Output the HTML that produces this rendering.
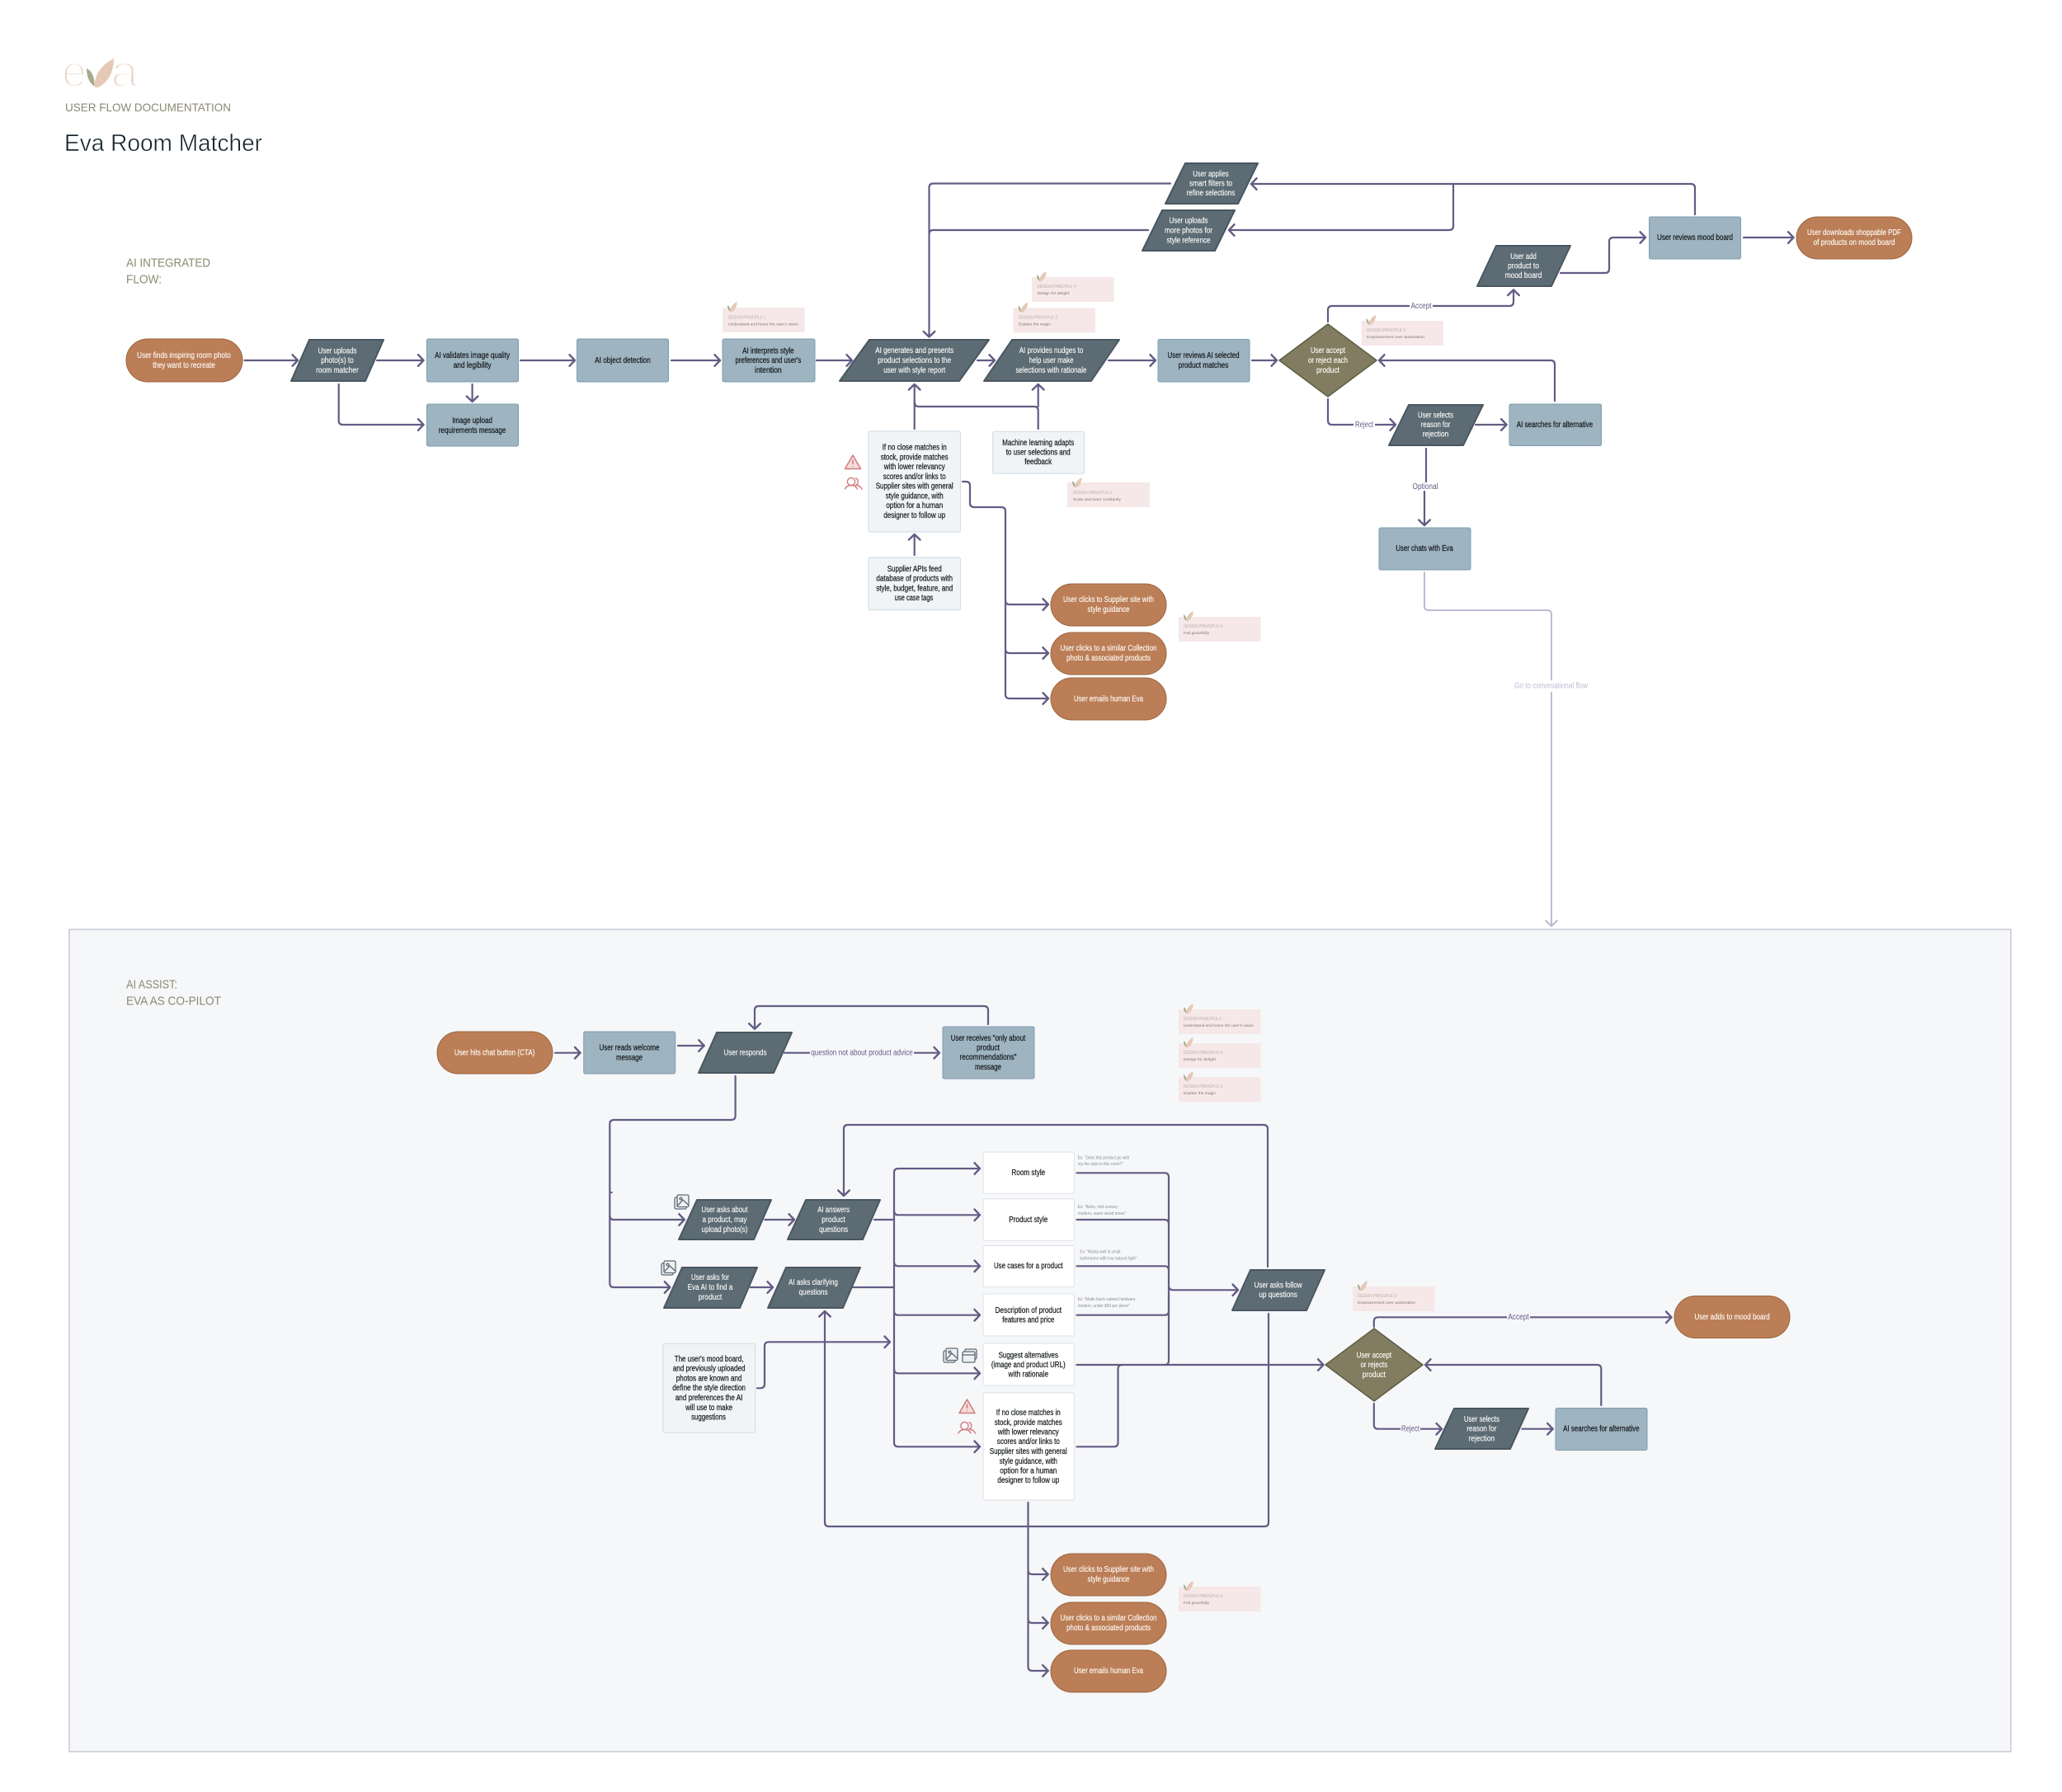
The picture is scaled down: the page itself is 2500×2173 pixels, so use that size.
<!DOCTYPE html>
<html lang="en">
<head>
<meta charset="utf-8">
<title>Eva Room Matcher</title>
<style>
html,body{margin:0;padding:0;background:#fff}
svg{display:block}
text{font-family:"Liberation Sans",sans-serif}
.n text,text.n{font-size:10px;text-anchor:middle;dominant-baseline:central}
.k{fill:#14191c;stroke:#14191c;stroke-width:.22}
.w{fill:#fffdfb;stroke:#fffdfb;stroke-width:.12}
.c{fill:none;stroke:#625c84;stroke-width:2.2;stroke-linecap:round}
.l{fill:none;stroke:#bdbbd4;stroke-width:2;stroke-linecap:round}
.pill{fill:#bb7e56;stroke:#9c6640;stroke-width:1}
.blue{fill:#9eb4c0;stroke:#7d9cad;stroke-width:1}
.para{fill:#5c6b74;stroke:#4a5761;stroke-width:2;stroke-linejoin:round}
.dia{fill:#827d60;stroke:#5f5c46;stroke-width:1.5;stroke-linejoin:round}
.soft{fill:#f0f4f7;stroke:#d5dfe6;stroke-width:1.2}
.card{fill:#fff;stroke:#e3e5ea;stroke-width:1.2}
.dpb{fill:#f6e8e8}
.dh{font-size:5px;fill:#b9aeaa}
.db{font-size:4.8px;fill:#7a7a6c}
.ex{font-size:5px;fill:#8a8c99}
.lab{font-size:10px;fill:#635c85;text-anchor:middle;dominant-baseline:central}
.hd{fill:#8b8a70;font-size:15px}
</style>
</head>
<body>
<svg xmlns="http://www.w3.org/2000/svg" width="2500" height="2173" viewBox="0 0 2500 2173">
<defs>
<marker id="m" markerUnits="userSpaceOnUse" markerWidth="16" markerHeight="20" viewBox="0 0 16 20" refX="11" refY="10" orient="auto" overflow="visible">
<path d="M4.5 3.2L11 10L4.5 16.8" fill="none" stroke="#625c84" stroke-width="2.4" stroke-linecap="round" stroke-linejoin="round"/>
</marker>
<marker id="ml" markerUnits="userSpaceOnUse" markerWidth="16" markerHeight="20" viewBox="0 0 16 20" refX="11" refY="10" orient="auto" overflow="visible">
<path d="M4.5 3.2L11 10L4.5 16.8" fill="none" stroke="#bdbbd4" stroke-width="2.2" stroke-linecap="round" stroke-linejoin="round"/>
</marker>
<g id="leaf">
<path d="M3.5 12C3 7 6.5 2.5 11.5 0C11.8 5.5 9 10.5 4.6 12.4Z" fill="#e5c9b6"/>
<path d="M0 4.2C2.3 5.2 3.4 8 3.4 11.8C1.2 10.6 0 7.6 0 4.2Z" fill="#a5a98f"/>
</g>
<g id="warn" fill="#f4dcdc" stroke="#d07b7b" stroke-width="1.5" stroke-linejoin="round">
<path d="M10 1L19.5 17.5H.5Z"/><path d="M10 6.5V12M10 14.2V15" fill="none"/>
</g>
<g id="ppl" fill="none" stroke="#d07b7b" stroke-width="1.4" stroke-linecap="round">
<ellipse cx="8" cy="5" rx="4.6" ry="4.6"/><path d="M.5 14C2 10.5 4.5 9.5 8 9.5C11.5 9.5 14 10.5 15.5 14"/><path d="M13.5.8C16.5 1.5 17.5 7 13.8 9C17 9.5 19.5 11 21 14"/>
</g>
<g id="img" fill="#eef1f3" stroke="#5c6b74" stroke-width="1.3" stroke-linejoin="round">
<rect x="0" y="3" width="14" height="14" rx="1.5"/><rect x="3" y="0" width="14" height="14.5" rx="1.5"/><circle cx="7.5" cy="4.5" r="1.4" fill="none"/><path d="M3.5 13L10 6L16.5 12" fill="none"/>
</g>
<g id="stack" fill="#eef1f3" stroke="#5c6b74" stroke-width="1.3" stroke-linejoin="round">
<rect x="3" y="0" width="14" height="12" rx="1.5"/><rect x="0" y="3" width="15" height="13" rx="1.5"/><path d="M0 7H15" fill="none"/>
</g>
</defs>

<!-- header -->
<text x="75" y="105" font-size="54" fill="#e7cfc4" stroke="#fff" stroke-width="3" paint-order="fill" textLength="30" lengthAdjust="spacingAndGlyphs">e</text>
<use href="#leaf" transform="translate(105 71) scale(2.85)"/>
<text x="134" y="105" font-size="54" fill="#e7cfc4" stroke="#fff" stroke-width="3" paint-order="fill" textLength="34" lengthAdjust="spacingAndGlyphs">a</text>
<text x="79" y="135" font-size="14" fill="#8b8a70" textLength="201" lengthAdjust="spacingAndGlyphs">USER FLOW DOCUMENTATION</text>
<text x="78" y="183" font-size="29" fill="#16242c" stroke="#fff" stroke-width=".5" textLength="240" lengthAdjust="spacingAndGlyphs">Eva Room Matcher</text>
<text class="hd" x="153" y="323.5" textLength="102" lengthAdjust="spacingAndGlyphs">AI INTEGRATED</text>
<text class="hd" x="153" y="343.5" textLength="43" lengthAdjust="spacingAndGlyphs">FLOW:</text>

<!-- panel -->
<rect x="84" y="1127" width="2354" height="997" fill="#f6f7f9" stroke="#cbccd8" stroke-width="1.6"/>
<text class="hd" x="153" y="1198.5" textLength="62" lengthAdjust="spacingAndGlyphs">AI ASSIST:</text>
<text class="hd" x="153" y="1218.5" textLength="115" lengthAdjust="spacingAndGlyphs">EVA AS CO-PILOT</text>

<!-- connectors with arrow -->
<g class="c" marker-end="url(#m)">
<path d="M296.5 437H361"/><path d="M457 437H513.5"/><path d="M631 437H697"/><path d="M814 437H873"/><path d="M990 437H1033"/>
<path d="M572.6 466V487"/><path d="M410.7 466V510Q410.7 515 415.7 515H513.5"/>
<path d="M1419 222.5H1131.5Q1126.5 222.5 1126.5 227.5V408.5"/>
<path d="M1185 437H1206"/><path d="M1344 437H1401"/><path d="M1518 437H1548"/>
<path d="M1610 390V376Q1610 371 1615 371H1830Q1835 371 1835 366V351.5"/>
<path d="M1892 331H1946Q1951 331 1951 326V293Q1951 288 1956 288H1995"/>
<path d="M2114 288H2174.5"/>
<path d="M2055 260V228Q2055 223 2050 223H1517"/>
<path d="M1762 224V274Q1762 279 1757 279H1490"/>
<path d="M1885 486V442Q1885 437 1880 437H1672"/>
<path d="M1789 515H1826.6"/>
<path d="M1610 484V510Q1610 515 1615 515H1692"/>
<path d="M1727 596V637"/>
<path d="M1108.7 520V466"/><path d="M1258.7 493V466"/><path d="M1108.7 673V648"/>
<path d="M1219 728Q1219 733 1224 733H1271"/><path d="M1219 787Q1219 792 1224 792H1271"/>
<path d="M1167 584H1171Q1176 584 1176 589V610Q1176 615 1181 615H1214Q1219 615 1219 620V842Q1219 847 1224 847H1271"/>

<path d="M673 1276.7H703.5"/><path d="M822 1268H853.7"/><path d="M951 1276.7H1139"/>
<path d="M1198 1242V1225Q1198 1220 1193 1220H920Q915 1220 915 1225V1247.7"/>
<path d="M891.6 1305V1353Q891.6 1358 886.6 1358H744.3Q739.3 1358 739.3 1363V1556Q739.3 1561 744.3 1561H812.3"/>
<path d="M739.3 1474Q739.3 1479 744.3 1479H829.8"/>
<path d="M927.4 1479H963"/><path d="M910 1561H937"/>
<path d="M1537 1536V1369Q1537 1364 1532 1364H1028Q1023 1364 1023 1369V1450"/>
<path d="M1084 1479V1422Q1084 1417 1089 1417H1188"/>
<path d="M1084 1479V1749Q1084 1754.3 1089 1754.3H1188"/>
<path d="M1084 1468Q1084 1473.3 1089 1473.3H1188"/>
<path d="M1084 1530Q1084 1535.3 1089 1535.3H1188"/>
<path d="M1084 1590Q1084 1594.7 1089 1594.7H1188"/>
<path d="M1084 1660Q1084 1665.3 1089 1665.3H1188"/>
<path d="M1417 1559Q1417 1564.3 1422 1564.3H1501"/>
<path d="M1305.5 1655H1604.5"/>
<path d="M1538 1593V1846Q1538 1851 1533 1851H1005Q1000 1851 1000 1846V1590"/>
<path d="M918 1683.3H922Q927 1683.3 927 1678V1632.3Q927 1627.3 932 1627.3H1079"/>
<path d="M1246.5 1822V2021Q1246.5 2026 1251.5 2026H1270.7"/>
<path d="M1246.5 1904Q1246.5 1909 1251.5 1909H1270.7"/>
<path d="M1246.5 1963Q1246.5 1968 1251.5 1968H1270.7"/>
<path d="M1665.8 1609V1602.3Q1665.8 1597.3 1670.8 1597.3H2026.5"/>
<path d="M1665.8 1702V1727.7Q1665.8 1732.7 1670.8 1732.7H1748"/>
<path d="M1845.4 1732.7H1882.7"/>
<path d="M1941.3 1704V1660Q1941.3 1655 1936.3 1655H1728"/>
</g>
<!-- connectors no arrow -->
<g class="c">
<path d="M1392 279H1131.5Q1126.5 279 1126.5 284"/>
<path d="M1258.7 520V498Q1258.7 493 1253.7 493H1114Q1109 493 1109 488"/>
<path d="M1729 544V584"/>
<path d="M1060 1479H1084"/><path d="M1034 1561H1084"/>
<path d="M1305.5 1422.3H1412Q1417 1422.3 1417 1427.3V1650Q1417 1655 1412 1655"/>
<path d="M1305.5 1479H1412Q1417 1479 1417 1484"/>
<path d="M1305.5 1535.3H1412Q1417 1535.3 1417 1540.3"/>
<path d="M1305.5 1594.7H1412Q1417 1594.7 1417 1589.7V1570"/>
<path d="M1305.5 1754.3H1350.5Q1355.5 1754.3 1355.5 1749.3V1660Q1355.5 1655 1360.5 1655"/>
<path d="M741 1446h.6"/>
</g>
<path class="l" marker-end="url(#ml)" d="M1727 694V735Q1727 740 1732 740H1876Q1881 740 1881 745V1123"/>

<!-- connector labels -->
<rect x="1709" y="364" width="28" height="14" fill="#fff"/><text class="lab" x="1723" y="371.4" textLength="24.7" lengthAdjust="spacingAndGlyphs">Accept</text>
<rect x="1641" y="508" width="26" height="14" fill="#fff"/><text class="lab" x="1654" y="515.4" textLength="22" lengthAdjust="spacingAndGlyphs">Reject</text>
<text class="lab" x="1728" y="590.4" textLength="31" lengthAdjust="spacingAndGlyphs">Optional</text>
<rect x="1834" y="825" width="94" height="14" fill="#fff"/><text class="lab" style="fill:#bdbbd4" x="1880.5" y="832" textLength="89" lengthAdjust="spacingAndGlyphs">Go to convesational flow</text>
<rect x="982" y="1270" width="126" height="14" fill="#f6f7f9"/><text class="lab" x="1045" y="1277" textLength="123.5" lengthAdjust="spacingAndGlyphs">question not about product advice</text>
<rect x="1827" y="1590" width="28" height="14" fill="#f6f7f9"/><text class="lab" x="1841" y="1597.7" textLength="25.5" lengthAdjust="spacingAndGlyphs">Accept</text>
<rect x="1698" y="1726" width="24" height="14" fill="#f6f7f9"/><text class="lab" x="1710" y="1733" textLength="22" lengthAdjust="spacingAndGlyphs">Reject</text>

<!-- shapes -->
<g class="pill">
<rect x="153" y="411" width="141" height="52" rx="26"/>
<rect x="2178" y="263" width="140" height="51" rx="25.5"/>
<rect x="1274" y="708" width="140" height="51" rx="25.5"/>
<rect x="1274" y="767" width="140" height="51" rx="25.5"/>
<rect x="1274" y="822" width="140" height="51" rx="25.5"/>
<rect x="530" y="1251" width="140" height="51" rx="25.5"/>
<rect x="2030" y="1571.5" width="140" height="51" rx="25.5"/>
<rect x="1274" y="1884" width="140" height="51" rx="25.5"/>
<rect x="1274" y="1943" width="140" height="51" rx="25.5"/>
<rect x="1274" y="2001" width="140" height="51" rx="25.5"/>
</g>
<g class="blue">
<rect x="517.5" y="411" width="111" height="52" rx="2"/>
<rect x="517.5" y="490" width="111" height="51" rx="2"/>
<rect x="699.5" y="411" width="111" height="52" rx="2"/>
<rect x="876" y="411" width="112" height="52" rx="2"/>
<rect x="1404" y="411.5" width="111" height="51.5" rx="2"/>
<rect x="1999.5" y="263" width="111" height="51" rx="2"/>
<rect x="1830" y="490" width="111.5" height="50.5" rx="2"/>
<rect x="1672" y="640" width="111" height="51" rx="2"/>
<rect x="707.7" y="1251" width="111" height="51" rx="2"/>
<rect x="1143" y="1245" width="111" height="63" rx="2"/>
<rect x="1886" y="1707.5" width="111" height="51" rx="2"/>
</g>
<g class="para">
<polygon points="375,412 465,412 443,462 353,462"/>
<polygon points="1437,198 1525,198 1501,247 1413,247"/>
<polygon points="1409,255 1497,255 1473,304 1385,304"/>
<polygon points="1054,412 1199,412 1163,462 1018,462"/>
<polygon points="1227,412 1357,412 1323,462 1193,462"/>
<polygon points="1814,298 1904,298 1881,347 1791,347"/>
<polygon points="1708,491 1798,491 1774,540 1684,540"/>
<polygon points="869,1252 960,1252 938,1301 847,1301"/>
<polygon points="845,1455 935,1455 914,1503 823,1503"/>
<polygon points="977,1455 1067,1455 1046,1503 955,1503"/>
<polygon points="827,1537 918,1537 897,1586 805,1586"/>
<polygon points="953,1537 1043,1537 1022,1586 931,1586"/>
<polygon points="1516,1540 1606,1540 1584,1589 1494,1589"/>
<polygon points="1763,1708 1853,1708 1831,1757 1740,1757"/>
</g>
<g class="dia">
<polygon points="1610,393 1669,437 1610,481 1551,437"/>
<polygon points="1666,1611 1725,1655 1666,1699 1607,1655"/>
</g>
<g class="soft">
<rect x="1053" y="523" width="111.5" height="122" rx="2"/>
<rect x="1203.6" y="523.3" width="111" height="51" rx="2"/>
<rect x="1053" y="676" width="111.5" height="63.7" rx="2"/>
<rect x="804" y="1629.3" width="111.7" height="108" rx="2"/>
</g>
<g class="card">
<rect x="1192" y="1397" width="110.5" height="50.3" rx="2"/>
<rect x="1192" y="1453.7" width="110.5" height="50.6" rx="2"/>
<rect x="1192" y="1510.5" width="110.5" height="50.3" rx="2"/>
<rect x="1192" y="1569" width="110.5" height="51" rx="2"/>
<rect x="1192" y="1629" width="110.5" height="51" rx="2"/>
<rect x="1192" y="1689" width="110.5" height="130" rx="2"/>
</g>

<!-- icons -->
<use href="#warn" x="1024" y="551"/><use href="#ppl" x="1024" y="579"/>
<use href="#warn" x="1162.5" y="1696"/><use href="#ppl" x="1161.5" y="1724"/>
<use href="#img" x="818" y="1449"/><use href="#img" x="802" y="1529"/>
<use href="#img" x="1144" y="1635"/><use href="#stack" x="1167" y="1636"/>

<!-- white node text -->
<g class="n w" transform="translate(0 .4)">
<text x="223" y="431" textLength="113.7" lengthAdjust="spacingAndGlyphs">User finds inspiring room photo</text>
<text x="223" y="443" textLength="75.8" lengthAdjust="spacingAndGlyphs">they want to recreate</text>
<text x="409" y="425.7" textLength="47" lengthAdjust="spacingAndGlyphs">User uploads</text>
<text x="409" y="437.3" textLength="39.6" lengthAdjust="spacingAndGlyphs">photo(s) to</text>
<text x="409" y="449" textLength="51.7" lengthAdjust="spacingAndGlyphs">room matcher</text>
<text x="1468" y="211" textLength="43.4" lengthAdjust="spacingAndGlyphs">User applies</text>
<text x="1468" y="222.5" textLength="52" lengthAdjust="spacingAndGlyphs">smart filters to</text>
<text x="1468" y="234" textLength="58.7" lengthAdjust="spacingAndGlyphs">refine selections</text>
<text x="1441" y="267.6" textLength="47" lengthAdjust="spacingAndGlyphs">User uploads</text>
<text x="1441" y="279.5" textLength="58" lengthAdjust="spacingAndGlyphs">more photos for</text>
<text x="1441" y="291.4" textLength="53" lengthAdjust="spacingAndGlyphs">style reference</text>
<text x="1108.7" y="425.3" textLength="95" lengthAdjust="spacingAndGlyphs">AI generates and presents</text>
<text x="1108.7" y="437" textLength="89" lengthAdjust="spacingAndGlyphs">product selections to the</text>
<text x="1108.7" y="449" textLength="75" lengthAdjust="spacingAndGlyphs">user with style report</text>
<text x="1274.5" y="425.3" textLength="77.6" lengthAdjust="spacingAndGlyphs">AI provides nudges to</text>
<text x="1274.5" y="437" textLength="54" lengthAdjust="spacingAndGlyphs">help user make</text>
<text x="1274.5" y="449" textLength="86" lengthAdjust="spacingAndGlyphs">selections with rationale</text>
<text x="1610" y="425.3" textLength="42" lengthAdjust="spacingAndGlyphs">User accept</text>
<text x="1610" y="437" textLength="48" lengthAdjust="spacingAndGlyphs">or reject each</text>
<text x="1610" y="449" textLength="28" lengthAdjust="spacingAndGlyphs">product</text>
<text x="1847" y="311" textLength="31.6" lengthAdjust="spacingAndGlyphs">User add</text>
<text x="1847" y="322.8" textLength="38" lengthAdjust="spacingAndGlyphs">product to</text>
<text x="1847" y="334" textLength="44.8" lengthAdjust="spacingAndGlyphs">mood board</text>
<text x="2248" y="282" textLength="114" lengthAdjust="spacingAndGlyphs">User downloads shoppable PDF</text>
<text x="2248" y="294" textLength="99" lengthAdjust="spacingAndGlyphs">of products on mood board</text>
<text x="1740.5" y="503.4" textLength="43" lengthAdjust="spacingAndGlyphs">User selects</text>
<text x="1740.5" y="515" textLength="35.6" lengthAdjust="spacingAndGlyphs">reason for</text>
<text x="1740.5" y="526.7" textLength="31.6" lengthAdjust="spacingAndGlyphs">rejection</text>
<text x="1344" y="727.3" textLength="110" lengthAdjust="spacingAndGlyphs">User clicks to Supplier site with</text>
<text x="1344" y="739.3" textLength="51" lengthAdjust="spacingAndGlyphs">style guidance</text>
<text x="1344" y="786.3" textLength="117" lengthAdjust="spacingAndGlyphs">User clicks to a similar Collection</text>
<text x="1344" y="798.3" textLength="102" lengthAdjust="spacingAndGlyphs">photo &amp; associated products</text>
<text x="1344" y="847.7" textLength="84" lengthAdjust="spacingAndGlyphs">User emails human Eva</text>

<text x="599.6" y="1276.7" textLength="97.5" lengthAdjust="spacingAndGlyphs">User hits chat button (CTA)</text>
<text x="903.5" y="1276.7" textLength="52" lengthAdjust="spacingAndGlyphs">User responds</text>
<text x="878.5" y="1467.3" textLength="56" lengthAdjust="spacingAndGlyphs">User asks about</text>
<text x="878.5" y="1479" textLength="54" lengthAdjust="spacingAndGlyphs">a product, may</text>
<text x="878.5" y="1491" textLength="56" lengthAdjust="spacingAndGlyphs">upload photo(s)</text>
<text x="1010.6" y="1467.3" textLength="38.8" lengthAdjust="spacingAndGlyphs">AI answers</text>
<text x="1010.6" y="1479" textLength="28.6" lengthAdjust="spacingAndGlyphs">product</text>
<text x="1010.6" y="1491" textLength="35" lengthAdjust="spacingAndGlyphs">questions</text>
<text x="861" y="1549.3" textLength="46" lengthAdjust="spacingAndGlyphs">User asks for</text>
<text x="861" y="1561" textLength="54.6" lengthAdjust="spacingAndGlyphs">Eva AI to find a</text>
<text x="861" y="1573" textLength="28.6" lengthAdjust="spacingAndGlyphs">product</text>
<text x="986" y="1555.3" textLength="59.7" lengthAdjust="spacingAndGlyphs">AI asks clarifying</text>
<text x="986" y="1567" textLength="35" lengthAdjust="spacingAndGlyphs">questions</text>
<text x="1549.6" y="1558.7" textLength="58" lengthAdjust="spacingAndGlyphs">User asks follow</text>
<text x="1549.6" y="1570.3" textLength="46.5" lengthAdjust="spacingAndGlyphs">up questions</text>
<text x="1665.8" y="1643.7" textLength="42.3" lengthAdjust="spacingAndGlyphs">User accept</text>
<text x="1665.8" y="1655.3" textLength="32.6" lengthAdjust="spacingAndGlyphs">or rejects</text>
<text x="1665.8" y="1667" textLength="28" lengthAdjust="spacingAndGlyphs">product</text>
<text x="1796.4" y="1721" textLength="43" lengthAdjust="spacingAndGlyphs">User selects</text>
<text x="1796.4" y="1732.7" textLength="36" lengthAdjust="spacingAndGlyphs">reason for</text>
<text x="1796.4" y="1744.7" textLength="31.6" lengthAdjust="spacingAndGlyphs">rejection</text>
<text x="2100" y="1597" textLength="91.3" lengthAdjust="spacingAndGlyphs">User adds to mood board</text>
<text x="1344" y="1903" textLength="110" lengthAdjust="spacingAndGlyphs">User clicks to Supplier site with</text>
<text x="1344" y="1915" textLength="51" lengthAdjust="spacingAndGlyphs">style guidance</text>
<text x="1344" y="1962" textLength="117" lengthAdjust="spacingAndGlyphs">User clicks to a similar Collection</text>
<text x="1344" y="1974" textLength="102" lengthAdjust="spacingAndGlyphs">photo &amp; associated products</text>
<text x="1344" y="2026" textLength="84" lengthAdjust="spacingAndGlyphs">User emails human Eva</text>
</g>

<!-- dark node text -->
<g class="n k" transform="translate(0 .4)">
<text x="572.6" y="431" textLength="91" lengthAdjust="spacingAndGlyphs">AI validates image quality</text>
<text x="572.6" y="443" textLength="46" lengthAdjust="spacingAndGlyphs">and legibility</text>
<text x="572.6" y="510" textLength="48.8" lengthAdjust="spacingAndGlyphs">Image upload</text>
<text x="572.6" y="522" textLength="81.5" lengthAdjust="spacingAndGlyphs">requirements message</text>
<text x="755" y="437" textLength="67.7" lengthAdjust="spacingAndGlyphs">AI object detection</text>
<text x="931.4" y="425.7" textLength="62.6" lengthAdjust="spacingAndGlyphs">AI interprets style</text>
<text x="931.4" y="437.3" textLength="79.8" lengthAdjust="spacingAndGlyphs">preferences and user's</text>
<text x="931.4" y="449" textLength="32.7" lengthAdjust="spacingAndGlyphs">intention</text>
<text x="1459" y="431" textLength="87" lengthAdjust="spacingAndGlyphs">User reviews AI selected</text>
<text x="1459" y="443" textLength="60.7" lengthAdjust="spacingAndGlyphs">product matches</text>
<text x="2055" y="288" textLength="92" lengthAdjust="spacingAndGlyphs">User reviews mood board</text>
<text x="1885" y="515" textLength="92.4" lengthAdjust="spacingAndGlyphs">AI searches for alternative</text>
<text x="1727" y="665" textLength="69.5" lengthAdjust="spacingAndGlyphs">User chats with Eva</text>

<text x="1108.7" y="542.7" textLength="78" lengthAdjust="spacingAndGlyphs">If no close matches in</text>
<text x="1108.7" y="554.7" textLength="82" lengthAdjust="spacingAndGlyphs">stock, provide matches</text>
<text x="1108.7" y="566.3" textLength="74" lengthAdjust="spacingAndGlyphs">with lower relevancy</text>
<text x="1108.7" y="578" textLength="76" lengthAdjust="spacingAndGlyphs">scores and/or links to</text>
<text x="1108.7" y="589.7" textLength="94" lengthAdjust="spacingAndGlyphs">Supplier sites with general</text>
<text x="1108.7" y="601.7" textLength="70" lengthAdjust="spacingAndGlyphs">style guidance, with</text>
<text x="1108.7" y="613.3" textLength="69" lengthAdjust="spacingAndGlyphs">option for a human</text>
<text x="1108.7" y="625" textLength="75" lengthAdjust="spacingAndGlyphs">designer to follow up</text>
<text x="1258.7" y="537" textLength="87" lengthAdjust="spacingAndGlyphs">Machine learning adapts</text>
<text x="1258.7" y="548.7" textLength="78" lengthAdjust="spacingAndGlyphs">to user selections and</text>
<text x="1258.7" y="560.3" textLength="33" lengthAdjust="spacingAndGlyphs">feedback</text>
<text x="1108.7" y="690" textLength="66" lengthAdjust="spacingAndGlyphs">Supplier APIs feed</text>
<text x="1108.7" y="701.7" textLength="92.6" lengthAdjust="spacingAndGlyphs">database of products with</text>
<text x="1108.7" y="713.7" textLength="93" lengthAdjust="spacingAndGlyphs">style, budget, feature, and</text>
<text x="1108" y="725.3" textLength="46.7" lengthAdjust="spacingAndGlyphs">use case tags</text>

<text x="763" y="1270.7" textLength="73" lengthAdjust="spacingAndGlyphs">User reads welcome</text>
<text x="763" y="1282.7" textLength="32" lengthAdjust="spacingAndGlyphs">message</text>
<text x="1198" y="1259" textLength="90.5" lengthAdjust="spacingAndGlyphs">User receives "only about</text>
<text x="1198" y="1270.7" textLength="28" lengthAdjust="spacingAndGlyphs">product</text>
<text x="1198" y="1282.3" textLength="69" lengthAdjust="spacingAndGlyphs">recommendations"</text>
<text x="1198" y="1294.3" textLength="32" lengthAdjust="spacingAndGlyphs">message</text>
<text x="1246.8" y="1422.3" textLength="40.8" lengthAdjust="spacingAndGlyphs">Room style</text>
<text x="1246.8" y="1479" textLength="47" lengthAdjust="spacingAndGlyphs">Product style</text>
<text x="1246.8" y="1535.3" textLength="83.7" lengthAdjust="spacingAndGlyphs">Use cases for a product</text>
<text x="1246.8" y="1589" textLength="80.6" lengthAdjust="spacingAndGlyphs">Description of product</text>
<text x="1246.8" y="1600.7" textLength="63" lengthAdjust="spacingAndGlyphs">features and price</text>
<text x="1246.8" y="1643.7" textLength="72.4" lengthAdjust="spacingAndGlyphs">Suggest alternatives</text>
<text x="1246.8" y="1655" textLength="89.8" lengthAdjust="spacingAndGlyphs">(image and product URL)</text>
<text x="1246.8" y="1666.7" textLength="48.5" lengthAdjust="spacingAndGlyphs">with rationale</text>
<text x="1246.8" y="1713" textLength="78" lengthAdjust="spacingAndGlyphs">If no close matches in</text>
<text x="1246.8" y="1725" textLength="82" lengthAdjust="spacingAndGlyphs">stock, provide matches</text>
<text x="1246.8" y="1736.7" textLength="74" lengthAdjust="spacingAndGlyphs">with lower relevancy</text>
<text x="1246.8" y="1748.3" textLength="76" lengthAdjust="spacingAndGlyphs">scores and/or links to</text>
<text x="1246.8" y="1760" textLength="94" lengthAdjust="spacingAndGlyphs">Supplier sites with general</text>
<text x="1246.8" y="1772" textLength="70" lengthAdjust="spacingAndGlyphs">style guidance, with</text>
<text x="1246.8" y="1783.7" textLength="69" lengthAdjust="spacingAndGlyphs">option for a human</text>
<text x="1246.8" y="1795.3" textLength="75" lengthAdjust="spacingAndGlyphs">designer to follow up</text>
<text x="859.6" y="1648" textLength="83.7" lengthAdjust="spacingAndGlyphs">The user's mood board,</text>
<text x="859.6" y="1659.7" textLength="87.8" lengthAdjust="spacingAndGlyphs">and previously uploaded</text>
<text x="859.6" y="1671.7" textLength="79.6" lengthAdjust="spacingAndGlyphs">photos are known and</text>
<text x="859.6" y="1683.3" textLength="88.8" lengthAdjust="spacingAndGlyphs">define the style direction</text>
<text x="859.6" y="1695" textLength="81.6" lengthAdjust="spacingAndGlyphs">and preferences the AI</text>
<text x="859.6" y="1707" textLength="57" lengthAdjust="spacingAndGlyphs">will use to make</text>
<text x="859" y="1718.7" textLength="41.8" lengthAdjust="spacingAndGlyphs">suggestions</text>
<text x="1941.3" y="1732.7" textLength="92.4" lengthAdjust="spacingAndGlyphs">AI searches for alternative</text>
</g>

<!-- example notes -->
<text class="ex" x="1306.7" y="1405.5" textLength="62.5" lengthAdjust="spacingAndGlyphs">Ex: "Does this product go with</text>
<text class="ex" x="1306.7" y="1413" textLength="55" lengthAdjust="spacingAndGlyphs">my the style in this room?"</text>
<text class="ex" x="1306.7" y="1464.8" textLength="48.7" lengthAdjust="spacingAndGlyphs">Ex: "Boho, mid-century</text>
<text class="ex" x="1306.7" y="1472.8" textLength="58.5" lengthAdjust="spacingAndGlyphs">modern, warm wood tones"</text>
<text class="ex" x="1309.4" y="1519.5" textLength="49" lengthAdjust="spacingAndGlyphs">Ex: "Works well in small</text>
<text class="ex" x="1309.4" y="1527.5" textLength="69" lengthAdjust="spacingAndGlyphs">bathrooms with low natural light"</text>
<text class="ex" x="1306.7" y="1577" textLength="71" lengthAdjust="spacingAndGlyphs">Ex: "Matte black cabinet hardware,</text>
<text class="ex" x="1306.7" y="1585" textLength="63" lengthAdjust="spacingAndGlyphs">modern, under $30 per piece"</text>

<!-- design principles -->
<g>
<rect class="dpb" x="876" y="373" width="99.5" height="30"/><use href="#leaf" x="882" y="366"/>
<text class="dh" x="883" y="386.5" textLength="46.5" lengthAdjust="spacingAndGlyphs">DESIGN PRINCIPLE 1:</text>
<text class="db" x="883" y="394.5" textLength="85" lengthAdjust="spacingAndGlyphs">Understand and honor the user's vision</text>

<rect class="dpb" x="1251" y="336" width="99.5" height="30"/><use href="#leaf" x="1257" y="329"/>
<text class="dh" x="1257.5" y="349" textLength="48" lengthAdjust="spacingAndGlyphs">DESIGN PRINCIPLE 4:</text>
<text class="db" x="1257.5" y="357" textLength="39" lengthAdjust="spacingAndGlyphs">Design for delight</text>

<rect class="dpb" x="1228.5" y="373.5" width="99.5" height="30"/><use href="#leaf" x="1234.5" y="366.5"/>
<text class="dh" x="1235" y="386.5" textLength="48" lengthAdjust="spacingAndGlyphs">DESIGN PRINCIPLE 2:</text>
<text class="db" x="1235" y="394.5" textLength="39" lengthAdjust="spacingAndGlyphs">Explain the magic</text>

<rect class="dpb" x="1650.5" y="389" width="99.5" height="30"/><use href="#leaf" x="1656.5" y="382"/>
<text class="dh" x="1657" y="402" textLength="48" lengthAdjust="spacingAndGlyphs">DESIGN PRINCIPLE 3:</text>
<text class="db" x="1657" y="410" textLength="70" lengthAdjust="spacingAndGlyphs">Empowerment over automation</text>

<rect class="dpb" x="1294" y="585" width="100" height="30"/><use href="#leaf" x="1300" y="579"/>
<text class="dh" x="1301" y="599" textLength="48" lengthAdjust="spacingAndGlyphs">DESIGN PRINCIPLE 5:</text>
<text class="db" x="1301" y="607" textLength="58" lengthAdjust="spacingAndGlyphs">Scale and learn constantly</text>

<rect class="dpb" x="1429" y="748" width="99.5" height="30"/><use href="#leaf" x="1435" y="741"/>
<text class="dh" x="1435" y="761" textLength="48" lengthAdjust="spacingAndGlyphs">DESIGN PRINCIPLE 6:</text>
<text class="db" x="1435" y="769" textLength="31" lengthAdjust="spacingAndGlyphs">Fail gracefully</text>

<rect class="dpb" x="1429" y="1224" width="99.5" height="30"/><use href="#leaf" x="1435" y="1217"/>
<text class="dh" x="1435" y="1237" textLength="47" lengthAdjust="spacingAndGlyphs">DESIGN PRINCIPLE 1:</text>
<text class="db" x="1435" y="1245" textLength="85" lengthAdjust="spacingAndGlyphs">Understand and honor the user's vision</text>

<rect class="dpb" x="1429" y="1265" width="99.5" height="30"/><use href="#leaf" x="1435" y="1258"/>
<text class="dh" x="1435" y="1278" textLength="48" lengthAdjust="spacingAndGlyphs">DESIGN PRINCIPLE 4:</text>
<text class="db" x="1435" y="1286" textLength="39" lengthAdjust="spacingAndGlyphs">Design for delight</text>

<rect class="dpb" x="1429" y="1306" width="99.5" height="30"/><use href="#leaf" x="1435" y="1299"/>
<text class="dh" x="1435" y="1319" textLength="48" lengthAdjust="spacingAndGlyphs">DESIGN PRINCIPLE 2:</text>
<text class="db" x="1435" y="1327" textLength="39" lengthAdjust="spacingAndGlyphs">Explain the magic</text>

<rect class="dpb" x="1640" y="1560" width="99.5" height="30"/><use href="#leaf" x="1646" y="1553"/>
<text class="dh" x="1646" y="1573" textLength="48" lengthAdjust="spacingAndGlyphs">DESIGN PRINCIPLE 3:</text>
<text class="db" x="1646" y="1581" textLength="70" lengthAdjust="spacingAndGlyphs">Empowerment over automation</text>

<rect class="dpb" x="1429" y="1924" width="99.5" height="30"/><use href="#leaf" x="1435" y="1917"/>
<text class="dh" x="1435" y="1937" textLength="48" lengthAdjust="spacingAndGlyphs">DESIGN PRINCIPLE 6:</text>
<text class="db" x="1435" y="1945" textLength="31" lengthAdjust="spacingAndGlyphs">Fail gracefully</text>
</g>
</svg>
</body>
</html>
